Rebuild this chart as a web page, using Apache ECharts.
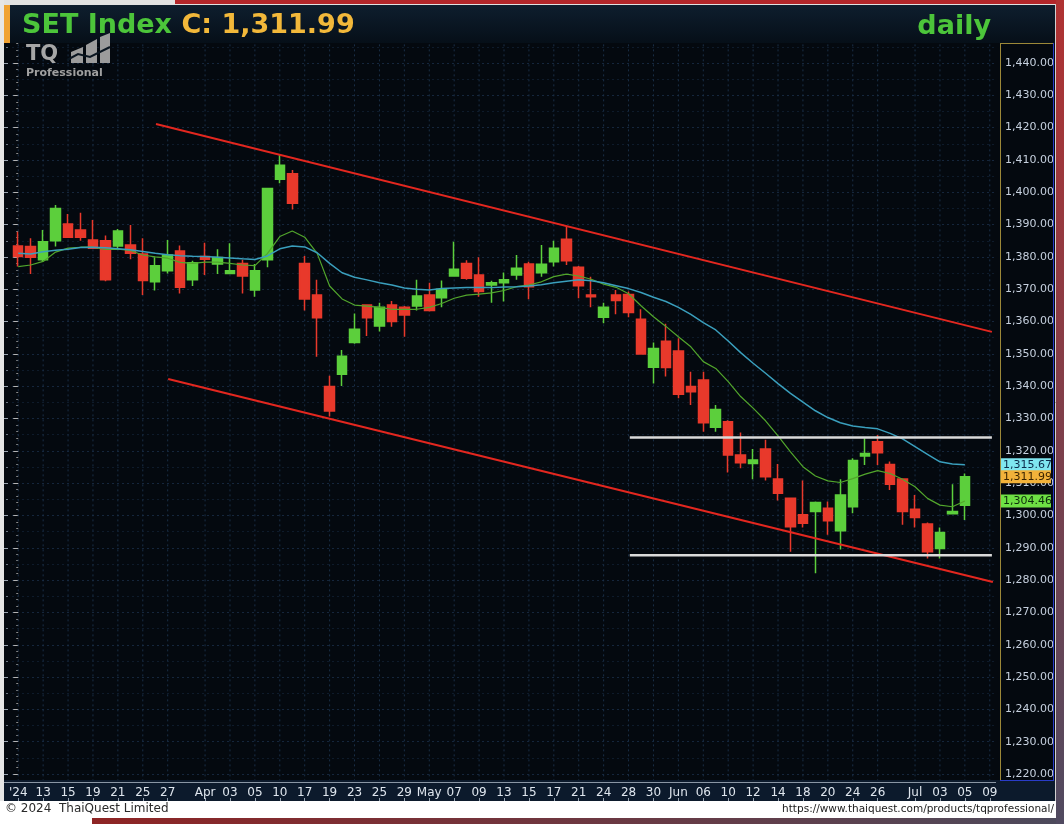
<!DOCTYPE html>
<html><head><meta charset="utf-8">
<script src="https://cdn.jsdelivr.net/npm/echarts@6/dist/echarts.min.js"></script>
<style>html,body{margin:0;padding:0;background:#fff}#c{width:1064px;height:824px}</style>
</head><body><div id="c"></div>
<script>
// ---------- DATA ----------
const categories = [
 '2024-03-11','2024-03-12','2024-03-13','2024-03-14','2024-03-15','2024-03-18','2024-03-19','2024-03-20','2024-03-21','2024-03-22',
 '2024-03-25','2024-03-26','2024-03-27','2024-03-28','2024-03-29','2024-04-01','2024-04-02','2024-04-03','2024-04-04','2024-04-05',
 '2024-04-09','2024-04-10','2024-04-11','2024-04-17','2024-04-18','2024-04-19','2024-04-22','2024-04-23','2024-04-24','2024-04-25',
 '2024-04-26','2024-04-29','2024-04-30','2024-05-02','2024-05-03','2024-05-07','2024-05-08','2024-05-09','2024-05-10','2024-05-13',
 '2024-05-14','2024-05-15','2024-05-16','2024-05-17','2024-05-20','2024-05-21','2024-05-23','2024-05-24','2024-05-27','2024-05-28',
 '2024-05-29','2024-05-30','2024-05-31','2024-06-04','2024-06-05','2024-06-06','2024-06-07','2024-06-10','2024-06-11','2024-06-12',
 '2024-06-13','2024-06-14','2024-06-17','2024-06-18','2024-06-19','2024-06-20','2024-06-21','2024-06-24','2024-06-25','2024-06-26',
 '2024-06-27','2024-06-28','2024-07-01','2024-07-02','2024-07-03','2024-07-04','2024-07-05','2024-07-08','2024-07-09'
];
const tickLabels = [
 "'24",'','13','','15','','19','','21','',
 '25','','27','','','Apr','','03','','05',
 '','10','','17','','19','','23','','25',
 '','29','','May','','07','','09','','13',
 '','15','','17','','21','','24','','28',
 '','30','','Jun','','06','','10','','12',
 '','14','','18','','20','','24','','26',
 '','','Jul','','03','','05','','09'
];
const openP = [1383.4,1383.2,1379.1,1385.0,1390.2,1388.3,1385.2,1385.0,1383.4,1383.7,
 1380.9,1372.3,1375.7,1381.8,1372.9,1380.1,1377.8,1374.9,1378.0,1369.8,
 1379.1,1404.0,1405.7,1378.0,1368.2,1339.9,1343.7,1353.5,1365.1,1358.6,
 1365.1,1364.4,1364.8,1368.2,1367.4,1374.1,1378.0,1374.4,1371.3,1372.0,
 1374.4,1377.8,1375.1,1378.5,1385.5,1376.8,1368.2,1361.3,1368.2,1368.4,
 1360.7,1345.9,1353.9,1350.9,1339.9,1341.9,1327.3,1329.0,1318.7,1316.1,
 1320.6,1311.3,1305.3,1300.2,1301.2,1302.2,1295.3,1302.7,1318.4,1322.8,
 1315.8,1311.3,1301.9,1297.4,1289.8,1300.5,1303.2];
const closeP = [1380.1,1379.9,1384.7,1395.0,1386.1,1386.1,1382.7,1372.9,1388.0,1381.1,
 1372.7,1377.3,1380.6,1370.6,1378.2,1379.3,1379.8,1375.7,1374.1,1375.7,
 1401.2,1408.4,1396.6,1367.0,1361.2,1332.3,1349.3,1357.6,1361.2,1364.4,
 1360.0,1362.0,1367.9,1363.4,1370.0,1376.2,1373.4,1369.3,1372.0,1372.9,
 1376.5,1370.8,1377.7,1382.7,1378.8,1371.1,1367.7,1364.4,1366.5,1362.8,
 1350.0,1351.7,1345.8,1337.5,1338.3,1328.7,1332.8,1318.7,1316.3,1317.2,
 1312.0,1306.9,1296.5,1297.6,1304.0,1298.4,1306.3,1317.0,1319.2,1319.4,
 1309.7,1301.2,1299.4,1288.8,1294.7,1301.2,1311.99];
const lowP = [1377.0,1374.7,1378.5,1383.2,1385.9,1385.0,1382.5,1372.5,1382.7,1379.3,
 1368.2,1369.6,1374.9,1368.7,1371.0,1374.4,1374.7,1374.7,1368.7,1367.7,
 1376.8,1402.8,1394.7,1363.4,1349.1,1330.6,1340.1,1353.1,1355.5,1356.9,
 1358.4,1355.3,1363.4,1363.1,1364.4,1373.9,1372.9,1367.7,1365.8,1366.2,
 1372.9,1366.9,1373.9,1377.0,1377.5,1367.2,1364.4,1359.5,1362.3,1361.3,
 1349.8,1340.8,1343.0,1336.3,1334.2,1325.9,1325.9,1313.3,1314.6,1311.2,
 1310.8,1304.6,1288.8,1296.3,1282.1,1294.0,1289.5,1300.7,1315.6,1315.6,
 1307.9,1297.1,1296.3,1286.7,1286.7,1300.4,1298.6];
const highP = [1387.8,1385.8,1388.3,1396.1,1393.3,1393.7,1391.4,1386.6,1388.6,1389.9,
 1385.8,1379.9,1385.2,1383.5,1378.8,1384.4,1382.4,1384.2,1379.1,1377.8,
 1401.3,1411.5,1406.9,1380.3,1372.9,1343.2,1351.2,1362.5,1365.3,1365.8,
 1366.4,1364.8,1372.9,1372.0,1372.7,1384.7,1379.0,1379.9,1372.6,1375.2,
 1380.6,1378.5,1383.7,1385.0,1389.6,1377.2,1373.9,1365.8,1369.8,1369.3,
 1363.8,1353.5,1359.3,1354.8,1344.5,1344.5,1334.2,1329.5,1325.7,1320.6,
 1323.4,1315.9,1305.5,1310.8,1304.3,1304.3,1311.2,1317.7,1323.9,1324.9,
 1316.7,1311.5,1306.3,1297.8,1296.3,1309.7,1313.0];
const maShort = [1377.0,1377.5,1378.6,1381.5,1382.7,1383.0,1383.0,1382.3,1382.4,1382.0,
 1380.6,1380.0,1379.6,1378.3,1378.0,1378.4,1378.4,1378.0,1377.5,1377.3,
 1381.0,1386.3,1388.0,1386.1,1381.1,1371.0,1367.0,1365.1,1364.8,1364.4,
 1363.8,1363.8,1363.8,1364.4,1365.6,1367.2,1368.2,1368.5,1368.9,1369.6,
 1370.8,1371.3,1372.3,1373.9,1374.7,1374.1,1373.1,1371.6,1370.6,1368.6,
 1364.9,1361.5,1358.5,1355.3,1352.2,1347.6,1345.5,1341.4,1336.8,1333.2,
 1329.3,1324.6,1319.7,1315.1,1312.2,1310.7,1310.2,1311.4,1312.8,1313.9,
 1313.0,1311.2,1308.9,1305.3,1303.2,1302.7,1304.46];
const maLong = [1381.1,1380.9,1381.6,1382.1,1382.4,1382.9,1383.0,1382.8,1382.5,1382.2,
 1381.7,1381.1,1380.7,1380.4,1380.2,1380.1,1379.9,1379.7,1379.4,1379.2,
 1380.3,1382.5,1383.4,1383.1,1381.3,1378.0,1375.1,1373.7,1372.9,1372.0,
 1371.3,1370.4,1370.0,1369.8,1370.2,1370.4,1370.5,1370.5,1370.5,1370.7,
 1370.8,1371.0,1371.4,1372.0,1372.5,1372.9,1372.6,1372.0,1371.1,1370.2,
 1369.0,1367.5,1366.2,1364.4,1362.2,1359.7,1357.4,1354.0,1350.4,1347.1,
 1344.0,1340.8,1337.8,1335.1,1332.4,1330.3,1328.7,1327.7,1327.2,1326.8,
 1325.4,1323.7,1321.3,1318.9,1316.6,1315.9,1315.67];
const upperChannel = [[11.06,1421.1],[78.17,1356.8]];
const lowerChannel = [[12.04,1342.2],[78.25,1279.4]];
const resistanceLine = [[49.1,1324.1],[78.17,1324.1]];
const supportLine = [[49.1,1287.7],[78.17,1287.7]];
const lastClose = 1311.99;
const lastMaShort = 1304.46;
const lastMaLong = 1315.67;

// ---------- CHART ----------
const FONT = 'DejaVu Sans';
const ohlc = openP.map((o,i)=>[o, closeP[i], lowP[i], highP[i]]);
const labelIdx = tickLabels.map((t,i)=> t!=='' ? i : -1).filter(i=>i>=0);
const fmt = v => v.toLocaleString('en-US',{minimumFractionDigits:2, maximumFractionDigits:2});
const showTick = (idx) => tickLabels[idx] !== '';

const chart = echarts.init(document.getElementById('c'), null, {renderer:'canvas', width:1064, height:824});

const G = {left:12, width:984, top:30.68, height:775.68};

const vGrid = [];
labelIdx.forEach(i => { vGrid.push([i,1210],[i,1450],[null,null]); });

const graphics = [
  {type:'rect', z:10, shape:{x:0,y:0,width:1064,height:5}, style:{fill:'#e2e2e2'}},
  {type:'rect', z:10, shape:{x:175,y:0,width:889,height:4}, style:{fill:'#b3262a'}},
  {type:'rect', z:10, shape:{x:0,y:0,width:4,height:824}, style:{fill:'#e6e6e6'}},
  {type:'rect', z:10, shape:{x:4,y:5,width:1052,height:38}, style:{fill:new echarts.graphic.LinearGradient(0,0,0,1,[{offset:0,color:'#0e1e2e'},{offset:1,color:'#060f18'}])}},
  {type:'rect', z:10, shape:{x:4,y:5,width:6,height:38}, style:{fill:'#f0a232'}},
  {type:'rect', z:10, shape:{x:4,y:780,width:1052,height:21}, style:{fill:'#0c1a2c'}},
  {type:'rect', z:10, shape:{x:0,y:801,width:1056,height:17}, style:{fill:'#ffffff'}},
  {type:'rect', z:10, shape:{x:0,y:818,width:92,height:6}, style:{fill:'#ffffff'}},
  {type:'rect', z:10, shape:{x:92,y:818,width:972,height:6}, style:{fill:new echarts.graphic.LinearGradient(0,0,1,0,[{offset:0,color:'#8e2424'},{offset:1,color:'#4c4a5c'}])}},
  {type:'rect', z:10, shape:{x:1056,y:0,width:8,height:824}, style:{fill:new echarts.graphic.LinearGradient(0,0,0,1,[{offset:0,color:'#b03232'},{offset:1,color:'#504a60'}])}},
  {type:'line', z:10, shape:{x1:1055.5,y1:4,x2:1055.5,y2:801}, style:{stroke:'#d0d0d0',lineWidth:1}},
  {type:'line', z:11, shape:{x1:1000.5,y1:43,x2:1000.5,y2:781}, style:{stroke:'#9c8838',lineWidth:1}},
  {type:'line', z:11, shape:{x1:1000,y1:43.5,x2:1054,y2:43.5}, style:{stroke:'#9c8838',lineWidth:1}},
  {type:'line', z:11, shape:{x1:1053.5,y1:43,x2:1053.5,y2:781}, style:{stroke:'#2a3cc8',lineWidth:1}},
  {type:'line', z:11, shape:{x1:1000,y1:780.5,x2:1054,y2:780.5}, style:{stroke:'#2a3cc8',lineWidth:1}},
  {type:'line', z:11, shape:{x1:4,y1:782.5,x2:996,y2:782.5}, style:{stroke:'#8a96a4',lineWidth:1}},
  {type:'text', z:30, x:22, y:26, style:{text:'{g|SET Index} {o|C: 1,311.99}', verticalAlign:'middle', font:'bold 27px "DejaVu Sans"',
     rich:{g:{fill:'#4cc53a', font:'bold 27px "DejaVu Sans"'}, o:{fill:'#f2b83a', font:'bold 27px "DejaVu Sans"'}}}},
  {type:'text', z:30, x:991, y:27, style:{text:'daily', align:'right', verticalAlign:'middle', fill:'#4cc53a', font:'bold 27px "DejaVu Sans"'}},
  {type:'text', z:30, x:26, y:55, style:{text:'TQ', verticalAlign:'middle', fill:'#a6a6a6', font:'bold 21px "DejaVu Sans"'}},
  {type:'polygon', z:30, shape:{points:[[71,52],[83,47],[83,63],[71,63]]}, style:{fill:'#9c9c9c'}},
  {type:'polygon', z:30, shape:{points:[[86,45],[97,39],[97,63],[86,63]]}, style:{fill:'#9c9c9c'}},
  {type:'polygon', z:30, shape:{points:[[100,37],[110,33],[110,63],[100,63]]}, style:{fill:'#9c9c9c'}},
  {type:'polyline', z:31, shape:{points:[[67,60],[78,54],[90,57],[110,47]]}, style:{stroke:'#0a1520',lineWidth:2}},
  {type:'text', z:30, x:26, y:73, style:{text:'Professional', verticalAlign:'middle', fill:'#a0a0a0', font:'bold 11px "DejaVu Sans"'}},
  {type:'text', z:30, x:5, y:809, style:{text:'\u00a9 2024  ThaiQuest Limited', verticalAlign:'middle', fill:'#2a2a2a', font:'12px "DejaVu Sans"'}},
  {type:'text', z:30, x:1054, y:809, style:{text:'https://www.thaiquest.com/products/tqprofessional/', align:'right', verticalAlign:'middle', fill:'#1a1a1a', font:'10.5px "DejaVu Sans"'}}
];

const option = {
  animation:false,
  backgroundColor:'#04090f',
  grid:[
    {left:G.left, width:G.width, top:G.top, height:G.height},
    {left:G.left, width:G.width, top:783, height:18}
  ],
  xAxis:[
    {type:'category', gridIndex:0, data:categories, boundaryGap:true,
     axisLine:{show:false}, axisTick:{show:false}, axisLabel:{show:false}, splitLine:{show:false}},
    {type:'value', gridIndex:0, min:-0.5, max:78.5,
     axisLine:{show:false}, axisTick:{show:false}, axisLabel:{show:false}, splitLine:{show:false}},
    {type:'category', gridIndex:1, data:categories, boundaryGap:true, position:'top', z:20,
     axisLine:{show:false},
     axisTick:{show:true, alignWithLabel:true, interval:showTick, length:3, lineStyle:{color:'#9aa6b4'}},
     axisLabel:{show:true, inside:true, interval:showTick, formatter:(v,i)=>tickLabels[i], margin:4,
       verticalAlign:'top', color:'#dfe6ee', fontSize:12, fontFamily:FONT},
     splitLine:{show:false}}
  ],
  yAxis:[
    {type:'value', gridIndex:0, position:'right', offset:4, min:1210, max:1450, interval:10,
     axisLine:{show:false},
     axisTick:{show:true, inside:true, length:5, lineStyle:{color:'#b4b4b4'}},
     minorTick:{show:true, splitNumber:5, length:2, lineStyle:{color:'#8a8a8a'}},
     axisLabel:{show:true, showMinLabel:false, showMaxLabel:false, formatter:fmt, color:'#c6d0de', fontSize:11, fontFamily:FONT, margin:5},
     splitLine:{show:true, lineStyle:{color:'#15263c', type:[2,3], width:1}}},
    {type:'value', gridIndex:0, position:'left', offset:4, min:1210, max:1450, interval:10,
     axisLine:{show:false},
     axisTick:{show:true, inside:false, length:4, lineStyle:{color:'#9aa4b0'}},
     minorTick:{show:true, splitNumber:2, length:2, lineStyle:{color:'#6c7682'}},
     axisLabel:{show:false}, splitLine:{show:false},
     minorSplitLine:{show:true, lineStyle:{color:'#0e1b2b', type:[2,3], width:1}}},
    {type:'value', gridIndex:1, min:0, max:1, show:false}
  ],
  series:[
    {type:'line', name:'vgrid', xAxisIndex:1, yAxisIndex:0, data:vGrid, symbol:'none', connectNulls:false, z:1, silent:true,
     lineStyle:{color:'#1a2f47', type:[2,3], width:1}},
    {type:'candlestick', name:'SET', xAxisIndex:0, yAxisIndex:0, data:ohlc, barWidth:10, z:3,
     itemStyle:{color:'#5ccf3c', color0:'#e8392b', borderColor:'#5ccf3c', borderColor0:'#e8392b', borderWidth:1.5}},
    {type:'line', name:'MA short', xAxisIndex:0, yAxisIndex:0, data:maShort, symbol:'none', z:4,
     lineStyle:{color:'#52a62c', width:1.2}},
    {type:'line', name:'MA long', xAxisIndex:0, yAxisIndex:0, data:maLong, symbol:'none', z:4,
     lineStyle:{color:'#3a9fbd', width:1.5}},
    {type:'line', name:'upper', xAxisIndex:1, yAxisIndex:0, data:upperChannel, symbol:'none', z:5, lineStyle:{color:'#e3271f', width:2}},
    {type:'line', name:'lower', xAxisIndex:1, yAxisIndex:0, data:lowerChannel, symbol:'none', z:5, lineStyle:{color:'#e3271f', width:2}},
    {type:'line', name:'res', xAxisIndex:1, yAxisIndex:0, data:resistanceLine, symbol:'none', z:5, lineStyle:{color:'#dadada', width:2.5}},
    {type:'line', name:'sup', xAxisIndex:1, yAxisIndex:0, data:supportLine, symbol:'none', z:5, lineStyle:{color:'#dadada', width:2.5}}
  ],
  graphic: graphics
};
chart.setOption(option);
const boxes = [
  {v:lastMaLong, bg:'#7fe6f0', fg:'#0c2a4a'},
  {v:lastClose, bg:'#f2b23a', fg:'#3a2400'},
  {v:lastMaShort, bg:'#6ee044', fg:'#0c2c0c'}
];
boxes.forEach(b=>{
  const y = chart.convertToPixel({yAxisIndex:0}, b.v);
  graphics.push({type:'rect', z:40, shape:{x:1001, y:y-6.5, width:50, height:13}, style:{fill:b.bg}});
  graphics.push({type:'text', z:41, x:1003, y:y+0.5, style:{text:fmt(b.v), verticalAlign:'middle', fill:b.fg, font:'11px "DejaVu Sans"'}});
});
chart.setOption({graphic: graphics});
</script></body></html>
